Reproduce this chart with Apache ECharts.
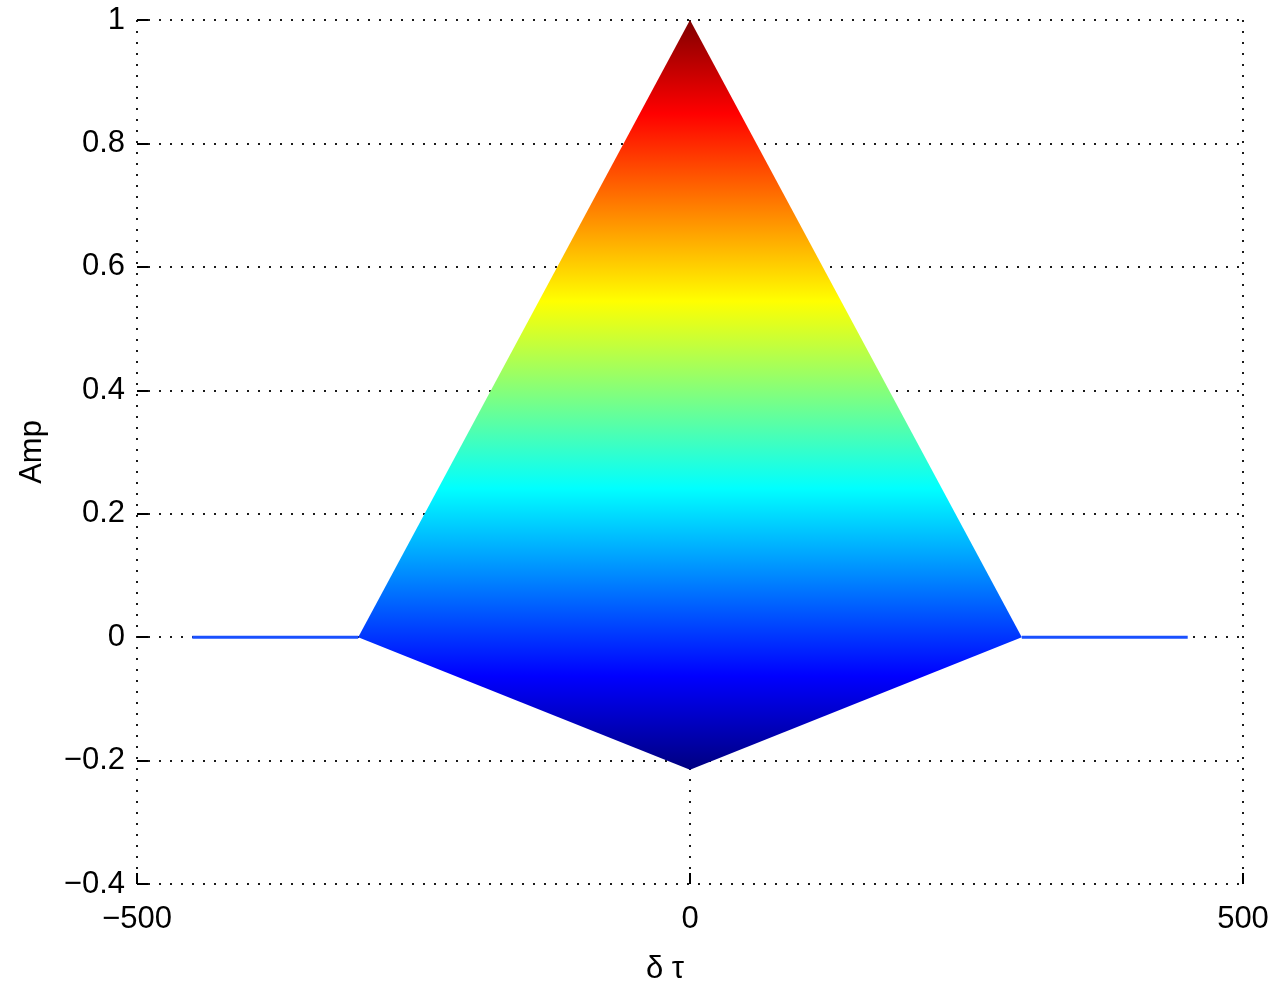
<!DOCTYPE html>
<html>
<head>
<meta charset="utf-8">
<script src="https://cdn.jsdelivr.net/npm/echarts@6/dist/echarts.min.js"></script>
<style>
html,body{margin:0;padding:0;background:#fff;}
#chart{width:1280px;height:991px;}
</style>
</head>
<body>
<div id="chart"></div>
<script>
// ---- data ----
const xTicks = [-500, 0, 500];
const yTicks = [-0.4, -0.2, 0, 0.2, 0.4, 0.6, 0.8, 1];
// outline of the filled amplitude region (vertices)
const shapeX = [-300, 0, 300, 0];
const shapeY = [0, 1, 0, -0.215];
// flat zero-amplitude tails
const tailLeftX = [-450, -300];
const tailLeftY = [0, 0];
const tailRightX = [300, 450];
const tailRightY = [0, 0];
const colorMin = -0.215;
const colorMax = 1;

// jet colormap stops (value 0..1 -> colour)
const jet = [
  [0.0, '#000080'], [0.125, '#0000ff'], [0.375, '#00ffff'],
  [0.625, '#ffff00'], [0.875, '#ff0000'], [1.0, '#800000']
];

const FONT = 'Liberation Sans, Arial, Helvetica, sans-serif';
const minus = v => String(v).replace('-', '\u2212');

const chart = echarts.init(document.getElementById('chart'), null, {renderer: 'canvas'});

const dotted = {color: '#1a1a1a', width: 2, type: [2, 9]};

chart.setOption({
  backgroundColor: '#fff',
  animation: false,
  grid: {left: 137, right: 37, top: 20, bottom: 107, containLabel: false},
  xAxis: {
    type: 'value', min: -500, max: 500, interval: 500,
    name: 'δ τ', nameLocation: 'middle', nameGap: 70,
    nameTextStyle: {fontFamily: FONT, fontSize: 31, color: '#000', padding: [0, 50, 0, 0]},
    axisLine: {show: false, onZero: false},
    axisTick: {show: true, inside: true, length: 11, lineStyle: {color: '#000', width: 2}},
    axisLabel: {fontFamily: FONT, fontSize: 31, color: '#000', margin: 20, formatter: minus},
    splitLine: {show: true, lineStyle: dotted}
  },
  yAxis: {
    type: 'value', min: -0.4, max: 1, interval: 0.2,
    name: 'Amp', nameLocation: 'middle', nameGap: 89, nameRotate: 90,
    nameTextStyle: {fontFamily: FONT, fontSize: 31, color: '#000'},
    axisLine: {show: false, onZero: false},
    axisTick: {show: true, inside: true, length: 11, lineStyle: {color: '#000', width: 2}},
    axisLabel: {fontFamily: FONT, fontSize: 31, color: '#000', margin: 12,
      formatter: v => minus(+v.toFixed(1))},
    splitLine: {show: true, lineStyle: dotted}
  },
  series: [
    {
      type: 'custom',
      coordinateSystem: 'cartesian2d',
      data: [[0, 0]],
      z: 3,
      renderItem: function (params, api) {
        const pts = shapeX.map((x, i) => api.coord([x, shapeY[i]]));
        const top = api.coord([0, colorMax]);
        const bot = api.coord([0, colorMin]);
        const stops = jet.map(s => ({offset: 1 - s[0], color: s[1]})).reverse();
        return {
          type: 'polygon',
          shape: {points: pts},
          style: {
            fill: new echarts.graphic.LinearGradient(0, top[1], 0, bot[1], stops, true),
            stroke: null
          }
        };
      }
    },
    {
      type: 'line', z: 2, symbol: 'none',
      data: tailLeftX.map((x, i) => [x, tailLeftY[i]]),
      lineStyle: {color: '#1a50ff', width: 3}
    },
    {
      type: 'line', z: 2, symbol: 'none',
      data: tailRightX.map((x, i) => [x, tailRightY[i]]),
      lineStyle: {color: '#1a50ff', width: 3}
    }
  ]
});
</script>
</body>
</html>
